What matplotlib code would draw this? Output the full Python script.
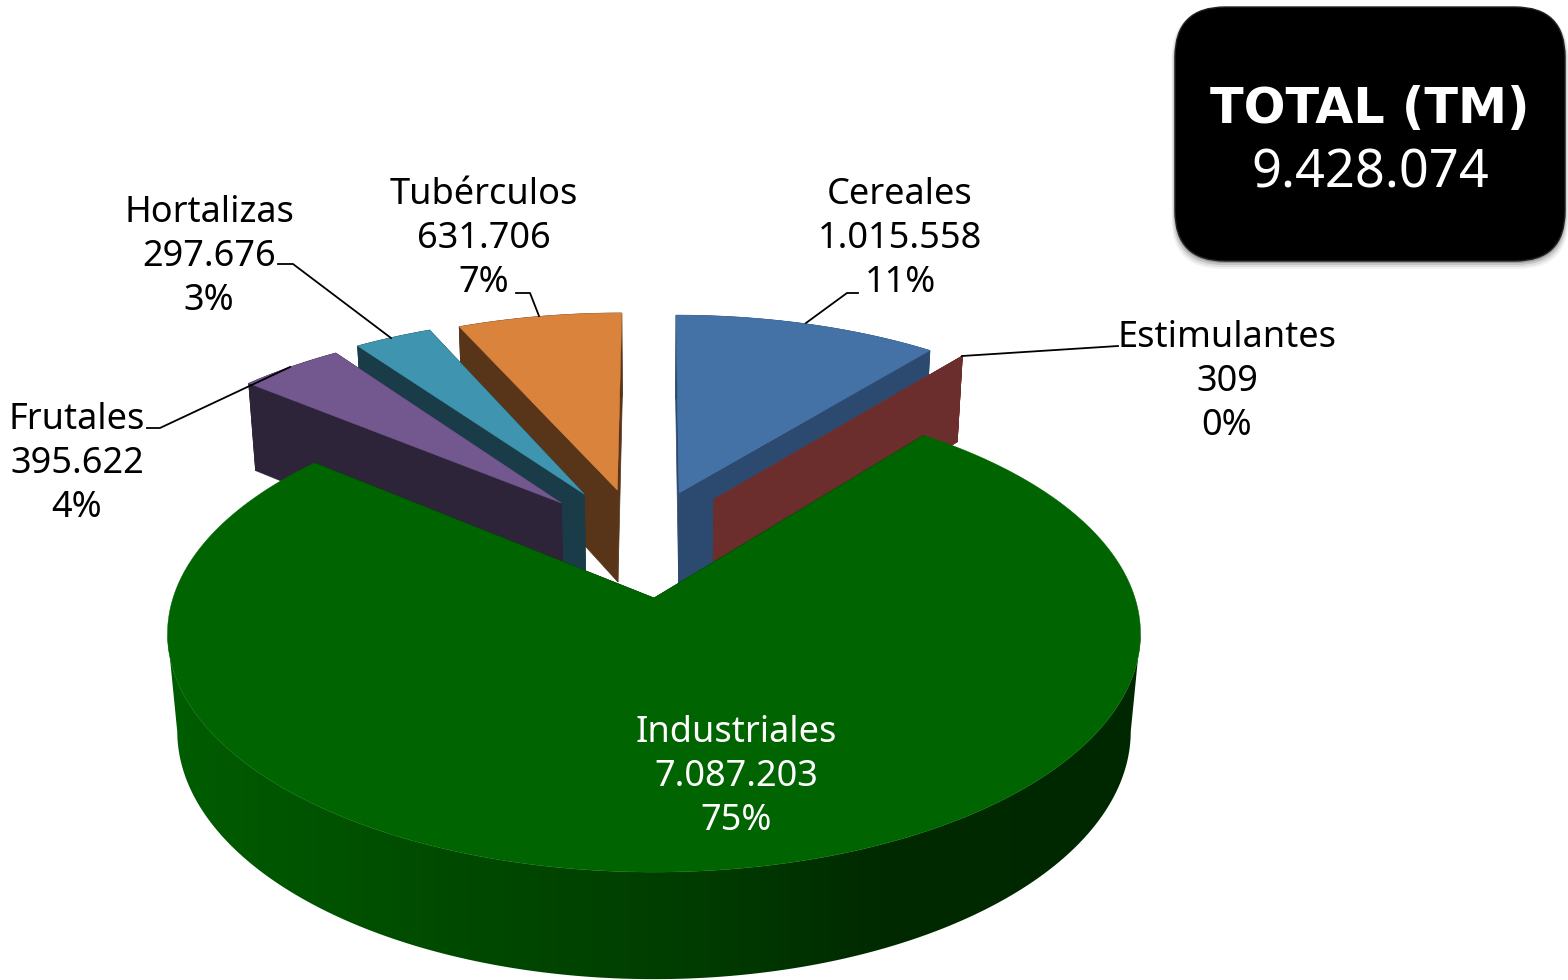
import numpy as np
import matplotlib
matplotlib.use("Agg")
import matplotlib.pyplot as plt
from matplotlib.patches import FancyBboxPatch, Polygon

# ========== DATOS ==========
categorias = ["Cereales", "Estimulantes", "Industriales", "Frutales", "Hortalizas", "Tubérculos"]
valores = [1015558, 309, 7087203, 395622, 297676, 631706]
etiquetas_valor = ["1.015.558", "309", "7.087.203", "395.622", "297.676", "631.706"]
etiquetas_pct = ["11%", "0%", "75%", "4%", "3%", "7%"]
total_titulo = "TOTAL (TM)"
total_valor = "9.428.074"

# ========== ESTILO ==========
color_top = ["#4472a6", "#70302e", "#006400", "#72588f", "#3f95b0", "#d9833c"]
color_lado = ["#2c4a70", "#6b2e2c", "#003000", "#2e2439", "#1a3c48", "#583418"]
# desplazamiento de cada porcion en el plano del pastel (u, v)
explosion = [(0.056, 0.484), (0.133, 0.451), (0.0, 0.0), (-0.205, 0.434), (-0.155, 0.477), (-0.082, 0.498)]
label_xy = [(900, 239), (1227, 382), (736, 777), (77, 464), (209, 257), (484, 239)]
leaders = [
    [(806, 323), (847, 293), (858, 293)],
    [(962, 356), (1118, 346)],
    None,
    [(290, 367), (160, 428), (147, 428)],
    [(278, 264), (293, 264), (391, 338)],
    [(516, 293), (530, 293), (539, 316)],
]

# parametros de la proyeccion
CX, CY = 654, 598
RX, RY = 481, 233
K, M, D = 0.15, 0.02, 98.6
FUENTE = "Noto Sans"
TAM = 26


def proyectar(u, v, z=0.0):
    den = 1 + K * v + M * z
    return CX + RX * u / den, CY + (D * z - RY * v) / den


fig = plt.figure(figsize=(15.68, 9.8), dpi=100)
ax = fig.add_axes([0, 0, 1, 1])

# angulos en sentido horario desde las 12
acum = np.cumsum([0] + valores) / sum(valores) * 360
orden = [0, 5, 4, 3, 1, 2]

for i in orden:
    t = np.radians(np.linspace(acum[i], acum[i + 1], 300))
    u0, v0 = explosion[i]
    u = u0 + np.sin(t)
    v = v0 + np.cos(t)
    zo = 2 + orden.index(i)

    # caras radiales
    for ue, ve in ((u[0], v[0]), (u[-1], v[-1])):
        p = [proyectar(u0, v0), proyectar(ue, ve), proyectar(ue, ve, 1), proyectar(u0, v0, 1)]
        ax.fill(*zip(*p), color=color_lado[i], lw=0.5, zorder=zo)

    # borde exterior
    xs1, ys1 = proyectar(u, v)
    xs2, ys2 = proyectar(u, v, 1)
    if i == 2:
        # silueta entre los extremos de arriba y de abajo, con sombreado hacia la derecha
        a1, b1 = np.argmax(xs1), np.argmin(xs1)
        a2, b2 = np.argmax(xs2), np.argmin(xs2)
        borde = Polygon(np.c_[np.r_[xs1[a1:b1 + 1], xs2[a2:b2 + 1][::-1]],
                              np.r_[ys1[a1:b1 + 1], ys2[a2:b2 + 1][::-1]]],
                        closed=True, transform=ax.transData, fc="none", ec="none")
        ax.add_patch(borde)
        gx = np.arange(150, 1160)
        verde = np.interp(gx, [170, 450, 700, 880, 1140], [0x5d, 0x4a, 0x3c, 0x2a, 0x28]) / 255
        grad = np.zeros((1, gx.size, 3))
        grad[0, :, 1] = verde
        im = ax.imshow(grad, extent=(150, 1160, 1000, 600), aspect="auto", zorder=zo, interpolation="bilinear")
        im.set_clip_path(borde)
    else:
        ax.fill(np.r_[xs1, xs2[::-1]], np.r_[ys1, ys2[::-1]], color=color_lado[i], lw=0.5, zorder=zo)

    # cara superior
    xs, ys = proyectar(np.r_[u0, u], np.r_[v0, v])
    ax.fill(xs, ys, color=color_top[i], lw=0.3, zorder=zo + 0.5)

ax.set_xlim(0, 1568)
ax.set_ylim(980, 0)
ax.axis("off")

for i in range(len(categorias)):
    col = "white" if i == 2 else "black"
    ax.text(label_xy[i][0], label_xy[i][1],
            categorias[i] + "\n" + etiquetas_valor[i] + "\n" + etiquetas_pct[i],
            ha="center", va="center", color=col, family=FUENTE, fontsize=TAM,
            linespacing=1.31, zorder=20)
    if leaders[i] is not None:
        ax.plot(*zip(*leaders[i]), color="black", lw=1.3, zorder=15)

# caja del total
for off, a in ((7, 0.05), (5, 0.08), (3, 0.12), (1, 0.2)):
    ax.add_patch(FancyBboxPatch((1175 - off / 2, 9), 390 + off, 253 + off,
                                boxstyle="round,pad=0,rounding_size=50",
                                fc="black", ec="none", alpha=a, zorder=21))
ax.add_patch(FancyBboxPatch((1175, 7), 390, 254, boxstyle="round,pad=0,rounding_size=50",
                            fc="black", ec="#222222", lw=1, zorder=22))
ax.text(1370, 109, total_titulo, ha="center", va="center", color="white", family="DejaVu Sans",
        fontsize=35.5, fontweight="bold", zorder=23)
ax.text(1370, 174, total_valor, ha="center", va="center", color="white", family=FUENTE,
        fontsize=37.7, zorder=23)

fig.savefig("out.png", dpi=100)
